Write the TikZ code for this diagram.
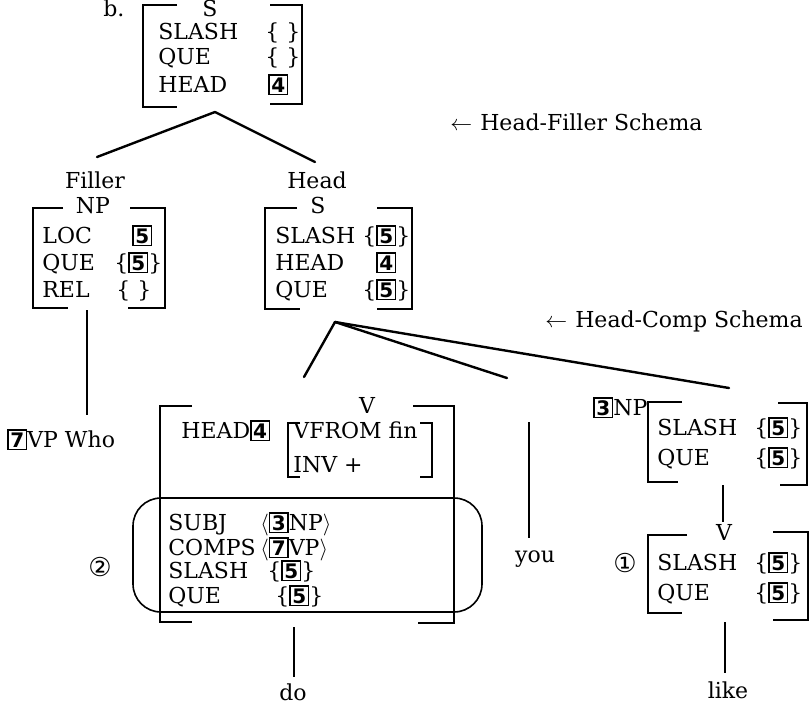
\documentclass[tikz,border=0pt]{standalone}
\usepackage{fontspec}
\setmainfont{DejaVu Serif}
\setsansfont{DejaVu Sans}
\newfontfamily\circfont{DejaVu Sans}
\usetikzlibrary{positioning}

\newcommand{\tagbox}[1]{{\setlength{\fboxsep}{0.8pt}\setlength{\fboxrule}{0.7pt}\fbox{\sffamily\bfseries\fontsize{10}{11}\selectfont #1}}}

\tikzset{
  feat/.style   = {inner sep=0pt, anchor=base west, font=\fontsize{11}{12}\selectfont},
  cat/.style    = {inner sep=0pt, anchor=base, font=\fontsize{11}{12}\selectfont},
  circ/.style   = {inner sep=0pt, font=\circfont\fontsize{13}{14}\selectfont},
  brk/.style    = {line width=1pt},
  branch/.style = {line width=1.2pt, line cap=round},
  lex/.style    = {line width=1.1pt},
  oval/.style   = {line width=0.8pt, rounded corners=14pt},
}

\begin{document}
\begin{tikzpicture}[x=0.5pt, y=-0.5pt]
\useasboundingbox (0,0) rectangle (812,706);

% mother S
\node[feat] (ex_label) at (103,17) {b.};
\node[cat] (top_cat) at (210,17) {S};
\draw[brk] (177,5) -- (143,5) -- (143,107) -- (177,107);
\draw[brk] (270,5) -- (302,5) -- (302,104) -- (270,104);
\node[feat] (top_slash) at (158,40) {SLASH};
\node[feat] (top_slash_v) at (265,40) {\{\ \}};
\node[feat] (top_que) at (158,65) {QUE};
\node[feat] (top_que_v) at (265,65) {\{\ \}};
\node[feat] (top_head) at (158,92) {HEAD};
\node[feat] (top_head_v) at (268,92) {\tagbox{4}};

% schema notes
\node[feat] (hf_schema) at (450,130) {$\leftarrow$\hspace{4pt}Head-Filler Schema};
\node[feat] (hc_schema) at (545,327) {$\leftarrow$\hspace{4pt}Head-Comp Schema};

% head-filler branches
\coordinate (top_apex) at (215,112);
\coordinate (fil_top) at (97,157);
\coordinate (hd_top) at (315,162);
\draw[branch] (top_apex) -- (fil_top);
\draw[branch] (top_apex) -- (hd_top);
\node[cat] (filler) at (95,188) {Filler};
\node[cat] (head) at (317,188) {Head};

% filler NP
\node[cat] (fil_cat) at (93,213) {NP};
\draw[brk] (63,208) -- (33,208) -- (33,308) -- (68,308);
\draw[brk] (130,208) -- (165,208) -- (165,308) -- (128,308);
\node[feat] (fil_loc) at (42,243) {LOC};
\node[feat] (fil_loc_v) at (132,243) {\tagbox{5}};
\node[feat] (fil_que) at (42,270) {QUE};
\node[feat] (fil_que_v) at (114,270) {\{\tagbox{5}\}};
\node[feat] (fil_rel) at (42,297) {REL};
\node[feat] (fil_rel_v) at (116,297) {\{\ \}};

% head S
\node[cat] (hd_cat) at (318,213) {S};
\draw[brk] (297,208) -- (265,208) -- (265,309) -- (300,309);
\draw[brk] (377,208) -- (412,208) -- (412,309) -- (377,309);
\node[feat] (hd_slash) at (275,243) {SLASH};
\node[feat] (hd_slash_v) at (362,243) {\{\tagbox{5}\}};
\node[feat] (hd_head) at (275,270) {HEAD};
\node[feat] (hd_head_v) at (376,270) {\tagbox{4}};
\node[feat] (hd_que) at (275,297) {QUE};
\node[feat] (hd_que_v) at (362,297) {\{\tagbox{5}\}};

% filler word
\coordinate (fil_bot) at (87,310);
\coordinate (who_top) at (87,415);
\draw[lex] (fil_bot) -- (who_top);
\node[feat] (who) at (7,447) {\tagbox{7}VP Who};

% head-comp branches
\coordinate (hc_apex) at (335,322);
\coordinate (verb_top) at (304,377);
\coordinate (you_top) at (507,378);
\coordinate (np_top) at (729,388);
\draw[branch] (hc_apex) -- (verb_top);
\draw[branch] (hc_apex) -- (you_top);
\draw[branch] (hc_apex) -- (np_top);

% verb V
\node[cat] (verb_cat) at (367,413) {V};
\draw[brk] (192,406) -- (160,406) -- (160,622) -- (192,622);
\draw[brk] (413,406) -- (454,406) -- (454,623) -- (418,623);
\node[feat] (verb_head) at (181,438) {HEAD\tagbox{4}};
\draw[brk] (300,423) -- (288,423) -- (288,477) -- (300,477);
\draw[brk] (420,423) -- (432,423) -- (432,477) -- (420,477);
\node[feat] (verb_vform) at (293,438) {VFROM fin};
\node[feat] (verb_inv) at (293,472) {INV +};
\draw[oval] (133,498) rectangle (482,612);
\node[feat] (verb_subj) at (168,530) {SUBJ};
\node[feat] (verb_subj_v) at (260,530) {$\langle$\tagbox{3}NP$\rangle$};
\node[feat] (verb_comps) at (168,555) {COMPS};
\node[feat] (verb_comps_v) at (260,555) {$\langle$\tagbox{7}VP$\rangle$};
\node[feat] (verb_slash) at (168,578) {SLASH};
\node[feat] (verb_slash_v) at (267,578) {\{\tagbox{5}\}};
\node[feat] (verb_que) at (168,603) {QUE};
\node[feat] (verb_que_v) at (275,603) {\{\tagbox{5}\}};
\node[circ] (mark_two) at (100,567) {②};
\coordinate (verb_bot) at (294,627);
\coordinate (do_top) at (294,677);
\draw[lex] (verb_bot) -- (do_top);
\node[cat] (do) at (293,700) {do};

% subject word
\coordinate (you_line_top) at (529,422);
\coordinate (you_line_bot) at (529,538);
\draw[lex] (you_line_top) -- (you_line_bot);
\node[cat] (you) at (535,562) {you};

% complement NP
\node[feat] (np_tag) at (593,415) {\tagbox{3}NP};
\draw[brk] (682,402) -- (648,402) -- (648,482) -- (678,482);
\draw[brk] (778,403) -- (807,403) -- (807,485) -- (780,485);
\node[feat] (np_slash) at (657,435) {SLASH};
\node[feat] (np_slash_v) at (754,435) {\{\tagbox{5}\}};
\node[feat] (np_que) at (657,465) {QUE};
\node[feat] (np_que_v) at (754,465) {\{\tagbox{5}\}};
\coordinate (np_bot) at (723,485);
\coordinate (v2_top) at (723,522);
\draw[lex] (np_bot) -- (v2_top);

% lower V
\node[cat] (v2_cat) at (724,540) {V};
\draw[brk] (687,535) -- (648,535) -- (648,613) -- (682,613);
\draw[brk] (773,532) -- (808,532) -- (808,620) -- (773,620);
\node[feat] (v2_slash) at (657,570) {SLASH};
\node[feat] (v2_slash_v) at (754,570) {\{\tagbox{5}\}};
\node[feat] (v2_que) at (657,600) {QUE};
\node[feat] (v2_que_v) at (754,600) {\{\tagbox{5}\}};
\node[circ] (mark_one) at (625,563) {①};
\coordinate (v2_bot) at (725,622);
\coordinate (like_top) at (725,673);
\draw[lex] (v2_bot) -- (like_top);
\node[cat] (like) at (728,698) {like};

\end{tikzpicture}
\end{document}
